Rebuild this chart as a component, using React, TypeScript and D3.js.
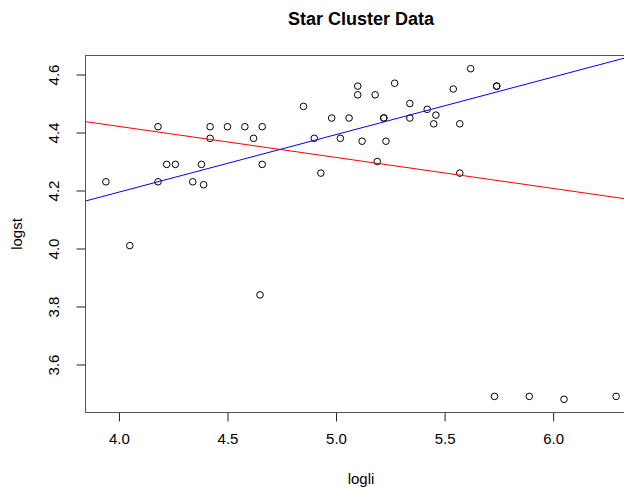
import { useEffect, useRef } from "react";
import * as d3 from "d3";

// star cluster data: log light intensity vs log surface temperature
const logli = [5.23, 5.74, 4.93, 5.74, 5.19, 5.46, 4.65, 5.27, 5.57, 5.12, 5.73, 5.45, 5.42, 4.05, 4.26, 4.58,
    3.94, 4.18, 4.18, 5.89, 4.38, 4.22, 4.42, 4.85, 5.02, 4.66, 4.66, 4.9, 4.39, 6.05, 4.42, 5.1, 5.22, 6.29,
    4.34, 5.62, 5.1, 5.22, 5.18, 5.57, 4.62, 5.06, 5.34, 5.34, 5.54, 4.98, 4.5];
const logst = [4.37, 4.56, 4.26, 4.56, 4.3, 4.46, 3.84, 4.57, 4.26, 4.37, 3.49, 4.43, 4.48, 4.01, 4.29, 4.42,
    4.23, 4.42, 4.23, 3.49, 4.29, 4.29, 4.42, 4.49, 4.38, 4.42, 4.29, 4.38, 4.22, 3.48, 4.38, 4.56, 4.45, 3.49,
    4.23, 4.62, 4.53, 4.45, 4.53, 4.43, 4.38, 4.45, 4.5, 4.45, 4.55, 4.45, 4.42];

// fitted lines (intercept, slope)
const fitNames = ["ls", "robust"];
const fitIntercepts = [4.849, 3.4004];
const fitSlopes = [-0.107, 0.1985];
const fitColors = ["#ff0000", "#0000ff"];

const xTicks = [4.0, 4.5, 5.0, 5.5, 6.0];
const yTicks = [3.6, 3.8, 4.0, 4.2, 4.4, 4.6];

export default function App() {
    const ref = useRef<SVGSVGElement>(null);

    useEffect(() => {
        const svg = d3.select(ref.current);
        svg.selectAll("*").remove();

        const width = 624;
        const height = 493;
        const plot = { left: 85.5, right: 636.5, top: 55.5, bottom: 412.5 };
        const font = "'Liberation Sans', Arial, Helvetica, sans-serif";
        const tick = 9;

        // R style: range padded by 4% on each side
        const xr = d3.extent(logli) as [number, number];
        const yr = d3.extent(logst) as [number, number];
        const xpad = (xr[1] - xr[0]) * 0.04;
        const ypad = (yr[1] - yr[0]) * 0.04;

        const x = d3.scaleLinear()
            .domain([xr[0] - xpad, xr[1] + xpad])
            .range([plot.left, plot.right]);
        const y = d3.scaleLinear()
            .domain([yr[0] - ypad, yr[1] + ypad])
            .range([plot.bottom, plot.top]);

        svg.append("defs").append("clipPath").attr("id", "plotClip")
            .append("rect")
            .attr("x", plot.left).attr("y", plot.top)
            .attr("width", plot.right - plot.left)
            .attr("height", plot.bottom - plot.top);

        // x axis
        const gx = svg.append("g")
            .attr("transform", `translate(0,${plot.bottom})`)
            .call(d3.axisBottom(x).tickValues(xTicks).tickFormat(d3.format(".1f")).tickSize(tick).tickPadding(12))
            .call(g => g.select(".domain").attr("stroke", "#222").attr("d", `M${x(xTicks[0])},0H${x(xTicks[xTicks.length - 1])}`))
            .call(g => g.selectAll("line").attr("stroke", "#222"));
        gx.selectAll("text")
            .style("font-family", font)
            .style("font-size", "15px")
            .attr("fill", "#000");

        // y axis (labels rotated like R's default las=0)
        const gy = svg.append("g")
            .attr("transform", `translate(${plot.left},0)`)
            .call(d3.axisLeft(y).tickValues(yTicks).tickFormat(d3.format(".1f")).tickSize(tick))
            .call(g => g.select(".domain").attr("stroke", "#222").attr("d", `M0,${y(yTicks[0])}V${y(yTicks[yTicks.length - 1])}`))
            .call(g => g.selectAll("line").attr("stroke", "#222"));
        gy.selectAll("text")
            .attr("x", null)
            .attr("dy", null)
            .attr("transform", `translate(${58.5 - plot.left},0) rotate(-90)`)
            .attr("text-anchor", "middle")
            .attr("y", 0)
            .style("font-family", font)
            .style("font-size", "15px")
            .attr("fill", "#000");

        // plot box
        svg.append("rect")
            .attr("x", plot.left).attr("y", plot.top)
            .attr("width", plot.right - plot.left)
            .attr("height", plot.bottom - plot.top)
            .attr("fill", "none")
            .attr("stroke", "#555")
            .attr("stroke-width", 1);

        // points
        svg.append("g")
            .selectAll("circle")
            .data(logli)
            .join("circle")
            .attr("cx", d => x(d))
            .attr("cy", (d, i) => y(logst[i]))
            .attr("r", 3.3)
            .attr("fill", "none")
            .attr("stroke", "#000")
            .attr("stroke-width", 1);

        // fitted lines, clipped to the plot region
        const [x0, x1] = x.domain();
        svg.append("g")
            .attr("clip-path", "url(#plotClip)")
            .selectAll("line")
            .data(fitNames)
            .join("line")
            .attr("x1", x(x0))
            .attr("x2", x(x1))
            .attr("y1", (d, i) => y(fitIntercepts[i] + fitSlopes[i] * x0))
            .attr("y2", (d, i) => y(fitIntercepts[i] + fitSlopes[i] * x1))
            .attr("stroke", (d, i) => fitColors[i])
            .attr("stroke-width", 1);

        // title and axis labels
        const mid = (plot.left + plot.right) / 2;
        svg.append("text")
            .attr("x", mid).attr("y", 25)
            .attr("text-anchor", "middle")
            .style("font-family", font)
            .style("font-size", "18px")
            .style("font-weight", "bold")
            .text("Star Cluster Data");

        svg.append("text")
            .attr("x", mid).attr("y", 484)
            .attr("text-anchor", "middle")
            .style("font-family", font)
            .style("font-size", "15px")
            .text("logli");

        svg.append("text")
            .attr("transform", `translate(22,${(plot.top + plot.bottom) / 2}) rotate(-90)`)
            .attr("text-anchor", "middle")
            .style("font-family", font)
            .style("font-size", "15px")
            .text("logst");

        svg.attr("width", width).attr("height", height);
    }, []);

    return (
        <svg ref={ref} width={624} height={493}
            style={{ position: "absolute", left: 0, top: 0, background: "#fff", display: "block" }} />
    );
}
